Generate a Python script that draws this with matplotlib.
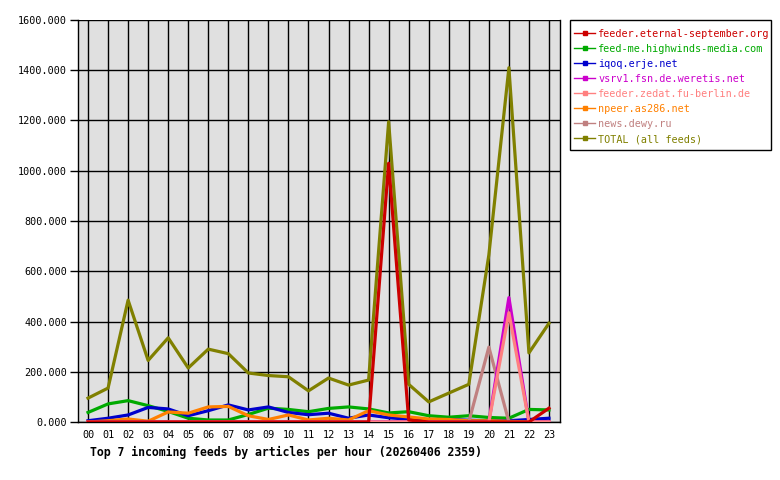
import numpy as np
import matplotlib
matplotlib.use('Agg')
import matplotlib.pyplot as plt
from matplotlib.lines import Line2D
from matplotlib.patches import Rectangle

hours = ['00', '01', '02', '03', '04', '05', '06', '07', '08', '09', '10', '11',
         '12', '13', '14', '15', '16', '17', '18', '19', '20', '21', '22', '23']
eternal = [0, 0, 0, 0, 0, 0, 0, 0, 0, 0, 0, 0, 0, 0, 0, 1030, 8, 0, 0, 0, 0, 0, 0, 55]
highwinds = [38, 72, 85, 65, 42, 15, 8, 8, 30, 55, 50, 41, 54, 60, 52, 36, 41, 25, 19, 25, 18, 15, 50, 48]
iqoq = [5, 15, 28, 58, 52, 25, 45, 68, 48, 60, 38, 29, 35, 15, 28, 17, 11, 7, 10, 7, 5, 5, 10, 15]
weretis = [0, 0, 0, 0, 0, 0, 0, 0, 0, 0, 0, 0, 0, 0, 0, 0, 0, 0, 0, 0, 0, 495, 0, 0]
zedat = [0, 0, 0, 0, 0, 0, 0, 0, 0, 0, 0, 0, 0, 0, 0, 0, 0, 0, 0, 0, 0, 435, 0, 0]
npeer = [0, 5, 12, 3, 40, 35, 60, 62, 25, 10, 28, 8, 15, 8, 45, 28, 20, 12, 10, 5, 5, 3, 0, 0]
dewy = [0, 0, 0, 0, 0, 0, 0, 0, 0, 0, 0, 0, 0, 0, 0, 0, 0, 0, 0, 0, 298, 0, 0, 0]
total = [95, 135, 485, 245, 335, 215, 290, 272, 195, 185, 180, 124, 175, 147, 167, 1195,
         150, 80, 115, 150, 665, 1410, 275, 393]

series = [
    ('feeder.eternal-september.org', eternal, '#cc0000'),
    ('feed-me.highwinds-media.com', highwinds, '#00aa00'),
    ('iqoq.erje.net', iqoq, '#0000cc'),
    ('vsrv1.fsn.de.weretis.net', weretis, '#cc00cc'),
    ('feeder.zedat.fu-berlin.de', zedat, '#ff8080'),
    ('npeer.as286.net', npeer, '#ff8000'),
    ('news.dewy.ru', dewy, '#c08080'),
    ('TOTAL (all feeds)', total, '#808000'),
]

plt.rcParams['font.family'] = ['DejaVu Sans Mono']
fig = plt.figure(figsize=(7.8, 4.8), dpi=100)
ax = fig.add_axes([78 / 780, 58 / 480, 482 / 780, 402 / 480])
ax.set_facecolor('#e0e0e0')

x = np.arange(len(hours))
# draw order: total behind, small feeds on top
draw_order = [7, 1, 2, 5, 6, 3, 4, 0]
for i in draw_order:
    name, vals, col = series[i]
    ax.plot(x, vals, color=col, lw=2.3, zorder=3)

ax.set_xlim(-0.5, 23.55)
ax.set_ylim(0, 1600)
ax.set_xticks(x)
ax.set_xticklabels(hours, fontsize=7.3)
ax.set_yticks(np.arange(0, 1601, 200))
ax.set_yticklabels(['%.3f' % v for v in np.arange(0, 1601, 200)], fontsize=7.3)
ax.grid(True, color='black', lw=1, zorder=1)
ax.set_axisbelow(True)
ax.tick_params(axis='x', length=0, pad=6)
ax.tick_params(axis='y', length=6, width=1, pad=2)
for s in ax.spines.values():
    s.set_color('black')
    s.set_linewidth(1)
ax.spines['top'].set_visible(False)

fig.text(90 / 780, 1 - 452 / 480, 'Top 7 incoming feeds by articles per hour (20260406 2359)',
         fontsize=8.3, fontweight='bold', va='center', ha='left')

# legend box drawn separately so the padding can match
fig.patches.append(Rectangle((570 / 780, 1 - 150 / 480), 201 / 780, 130 / 480,
                             transform=fig.transFigure, facecolor='white',
                             edgecolor='black', lw=1, zorder=0))
handles = [Line2D([0], [0], color=c, lw=1, marker='s', markersize=2.5) for _, _, c in series]
leg = fig.legend(handles, [n for n, _, _ in series], loc='upper left',
                 bbox_to_anchor=(570 / 780, 1 - 24.5 / 480), fontsize=7.3,
                 frameon=False, handlelength=2.1, handletextpad=0.3, labelspacing=0.5,
                 borderpad=0.4, borderaxespad=0, labelcolor='linecolor', numpoints=1)

fig.savefig('out.png', dpi=100)
